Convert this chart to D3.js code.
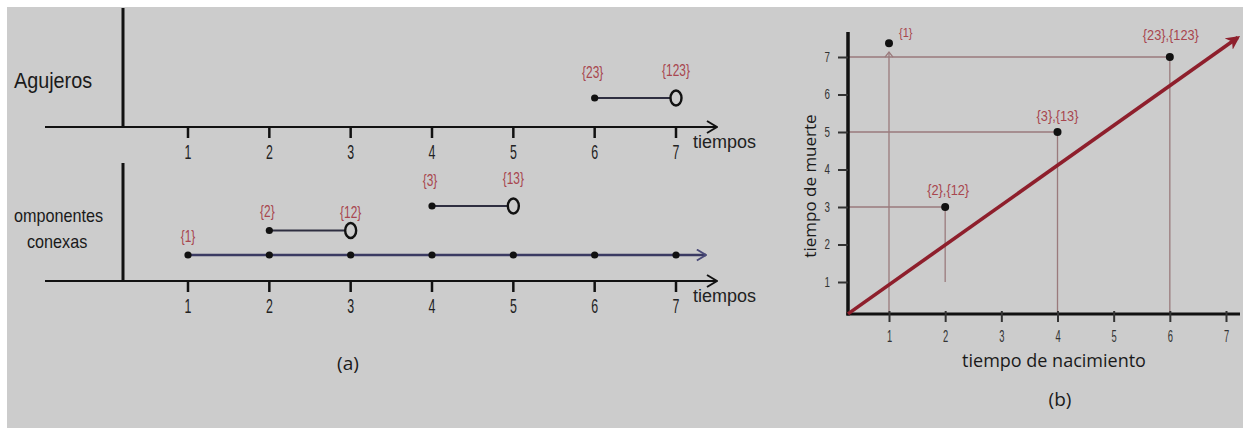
<!DOCTYPE html>
<html>
<head>
<meta charset="utf-8">
<script src="https://cdn.jsdelivr.net/npm/d3@7/dist/d3.min.js"></script>
<style>
  html, body { margin: 0; padding: 0; background: #fff; }
  svg { display: block; }
</style>
</head>
<body>
<svg id="fig" width="1243" height="428"></svg>
<script>
// data
var tiempos = [1, 2, 3, 4, 5, 6, 7];

// barcode (a): holes and connected components
var agujeros = [
    { nace: 6, muere: 7, nivel: 0, etNace: "{23}", etMuere: "{123}" }
];
var componentes = [
    { nace: 2, muere: 3, nivel: 1, etNace: "{2}", etMuere: "{12}" },
    { nace: 4, muere: 5, nivel: 2, etNace: "{3}", etMuere: "{13}" }
];
var compInfinita = { nace: 1, etNace: "{1}" };

// diagram (b): birth / death
var nacimiento = [1, 2, 4, 6];
var muerte = [7.37, 3, 5, 7];
var etiquetasDiag = ["{1}", "{2},{12}", "{3},{13}", "{23},{123}"];
var diagonal = [[0.27, 0.15], [7.21, 7.52]];

var negro = "#111";
var rojoTxt = "#a8464e";
var guia = "#9a7a7c";
var arial = "Arial, 'Liberation Sans', sans-serif";

var svg = d3.select("#fig");

// narrow text = arial squeezed horizontally
function angosto(sel, x, y, sx) {
    sel.attr("transform", function(d, i) {
        var xx = typeof x == "function" ? x(d, i) : x;
        var yy = typeof y == "function" ? y(d, i) : y;
        return "translate(" + xx + "," + yy + ") scale(" + (sx || 0.78) + ",1)";
    }).attr("font-family", arial);
    return sel;
}

svg.append("rect")
    .attr("x", 7).attr("y", 7)
    .attr("width", 1236).attr("height", 421)
    .attr("fill", "#cccccc");

var defs = svg.append("defs");
defs.append("marker")
    .attr("id", "chev")
    .attr("viewBox", "0 0 12 14")
    .attr("refX", 11).attr("refY", 7)
    .attr("markerWidth", 12).attr("markerHeight", 14)
    .attr("markerUnits", "userSpaceOnUse")
    .attr("orient", "auto")
    .append("path")
    .attr("d", "M1,1 L11,7 L1,13")
    .attr("fill", "none").attr("stroke", negro).attr("stroke-width", 2);
defs.append("marker")
    .attr("id", "chevAzul")
    .attr("viewBox", "0 0 12 14")
    .attr("refX", 11).attr("refY", 7)
    .attr("markerWidth", 11).attr("markerHeight", 13)
    .attr("markerUnits", "userSpaceOnUse")
    .attr("orient", "auto")
    .append("path")
    .attr("d", "M1,1 L11,7 L1,13")
    .attr("fill", "none").attr("stroke", "#4a4a78").attr("stroke-width", 2);
defs.append("marker")
    .attr("id", "flechaRoja")
    .attr("viewBox", "0 0 10 10")
    .attr("refX", 8).attr("refY", 5)
    .attr("markerWidth", 14).attr("markerHeight", 14)
    .attr("markerUnits", "userSpaceOnUse")
    .attr("orient", "auto")
    .append("path")
    .attr("d", "M0,0 L10,5 L0,10 L3,5 Z")
    .attr("fill", "#8e1f2c");

// ---------- (a) ----------
var xa = d3.scaleLinear().domain([1, 7]).range([188, 676]);

function panelBarras(ejeY, topY, titulo) {
    var g = svg.append("g");
    g.append("line")
        .attr("x1", 123).attr("x2", 123)
        .attr("y1", topY).attr("y2", ejeY)
        .attr("stroke", negro).attr("stroke-width", 3);
    g.append("line")
        .attr("x1", 45).attr("x2", 717)
        .attr("y1", ejeY).attr("y2", ejeY)
        .attr("stroke", negro).attr("stroke-width", 2.2)
        .attr("marker-end", "url(#chev)");
    g.selectAll(".tk").data(tiempos).enter().append("line")
        .attr("x1", function(d) { return xa(d) }).attr("x2", function(d) { return xa(d) })
        .attr("y1", ejeY).attr("y2", ejeY + 11)
        .attr("stroke", negro).attr("stroke-width", 2.5);
    var tl = g.selectAll(".tl").data(tiempos).enter().append("text")
        .attr("text-anchor", "middle")
        .attr("font-size", 20)
        .attr("fill", "#222")
        .text(function(d) { return d });
    angosto(tl, function(d) { return xa(d) }, ejeY + 32, 0.62);
    g.append("text")
        .attr("x", 693).attr("y", ejeY + 21)
        .attr("font-family", arial)
        .attr("font-size", 18)
        .attr("fill", "#222")
        .text("tiempos");
    var tt = g.selectAll(".tit").data(titulo).enter().append("text")
        .attr("font-size", function(d) { return d.s })
        .attr("fill", "#1a1a1a")
        .text(function(d) { return d.t });
    angosto(tt, function(d) { return d.x }, function(d) { return d.y }, 0.9);
    return g;
}

function barras(g, datos, nivelY) {
    var b = g.selectAll(".bar").data(datos).enter().append("g");
    b.append("line")
        .attr("x1", function(d) { return xa(d.nace) })
        .attr("x2", function(d) { return xa(d.muere) - 6 })
        .attr("y1", function(d) { return nivelY(d.nivel) })
        .attr("y2", function(d) { return nivelY(d.nivel) })
        .attr("stroke", "#2e2e40").attr("stroke-width", 2.2);
    b.append("circle")
        .attr("cx", function(d) { return xa(d.nace) })
        .attr("cy", function(d) { return nivelY(d.nivel) })
        .attr("r", 3.6).attr("fill", negro);
    b.append("ellipse")
        .attr("cx", function(d) { return xa(d.muere) })
        .attr("cy", function(d) { return nivelY(d.nivel) })
        .attr("rx", 5.5).attr("ry", 7.5)
        .attr("fill", "none").attr("stroke", negro).attr("stroke-width", 2.4);
    var a = b.append("text")
        .attr("text-anchor", "middle")
        .attr("font-size", 17)
        .attr("fill", rojoTxt)
        .text(function(d) { return d.etNace });
    angosto(a, function(d) { return xa(d.nace) - 2 },
        function(d) { return nivelY(d.nivel) - 20 + (d.nivel == 1 ? 6 : 0) }, 0.7);
    var m = b.append("text")
        .attr("text-anchor", "middle")
        .attr("font-size", 17)
        .attr("fill", rojoTxt)
        .text(function(d) { return d.etMuere });
    angosto(m, function(d) { return xa(d.muere) },
        function(d) { return nivelY(d.nivel) - 22 + (d.nivel == 1 ? 9 : 0) }, 0.7);
}

// Agujeros
var gTop = panelBarras(127, 8, [{ t: "Agujeros", x: 14, y: 88, s: 22 }]);
barras(gTop, agujeros, function() { return 98 });

// componentes conexas
var gBot = panelBarras(281, 163, [
    { t: "omponentes", x: 14, y: 222, s: 18 },
    { t: "conexas", x: 27, y: 248, s: 18 }
]);
var nivelY = d3.scaleLinear().domain([0, 2]).range([255, 206]);

gBot.append("line")
    .attr("x1", xa(compInfinita.nace)).attr("x2", 706)
    .attr("y1", nivelY(0)).attr("y2", nivelY(0))
    .attr("stroke", "#3a3a62").attr("stroke-width", 2.4)
    .attr("marker-end", "url(#chevAzul)");
gBot.selectAll(".dinf").data(tiempos).enter().append("circle")
    .attr("cx", function(d) { return xa(d) })
    .attr("cy", nivelY(0))
    .attr("r", 3.6).attr("fill", negro);
angosto(gBot.append("text")
    .attr("text-anchor", "middle")
    .attr("font-size", 17)
    .attr("fill", rojoTxt)
    .text(compInfinita.etNace), xa(compInfinita.nace), nivelY(0) - 13, 0.7);
barras(gBot, componentes, nivelY);

svg.append("text")
    .attr("x", 348).attr("y", 370)
    .attr("text-anchor", "middle")
    .attr("font-family", "'Open Sans', sans-serif")
    .attr("font-size", 19)
    .attr("fill", "#1a1a1a")
    .text("(a)");

// ---------- (b) ----------
var xb = d3.scaleLinear().domain([1, 7]).range([889, 1226]);
var yb = d3.scaleLinear().domain([1, 7]).range([282, 57]);
var ox = 848, oy = 314;
var gb = svg.append("g");

// guide lines
var puntos = nacimiento.map(function(n, i) { return { x: n, y: muerte[i], t: etiquetasDiag[i] } });
gb.selectAll(".gv").data(puntos).enter().append("line")
    .attr("x1", function(d) { return xb(d.x) }).attr("x2", function(d) { return xb(d.x) })
    .attr("y1", function(d, i) { return i == 0 ? yb(d.y) + 9 : yb(d.y) })
    .attr("y2", function(d, i) { return i == 1 ? 282 : oy })
    .attr("stroke", guia).attr("stroke-width", 1.3);
gb.selectAll(".gh").data(puntos.slice(1)).enter().append("line")
    .attr("x1", ox).attr("x2", function(d) { return xb(d.x) })
    .attr("y1", function(d) { return yb(d.y) }).attr("y2", function(d) { return yb(d.y) })
    .attr("stroke", guia).attr("stroke-width", 1.3);
// little arrow tip under {1}
gb.append("path")
    .attr("d", "M" + (xb(1) - 4) + "," + (yb(muerte[0]) + 14) + " L" + xb(1) + "," + (yb(muerte[0]) + 9) +
        " L" + (xb(1) + 4) + "," + (yb(muerte[0]) + 14))
    .attr("fill", "none").attr("stroke", guia).attr("stroke-width", 1.3);

// axes
gb.append("line")
    .attr("x1", ox).attr("x2", ox).attr("y1", 32).attr("y2", oy + 1.5)
    .attr("stroke", negro).attr("stroke-width", 3.5);
gb.append("line")
    .attr("x1", ox - 1.5).attr("x2", 1240).attr("y1", oy).attr("y2", oy)
    .attr("stroke", negro).attr("stroke-width", 3);

var axX = d3.axisBottom(xb).tickValues(tiempos).tickFormat(d3.format("d")).tickSize(8).tickPadding(4);
var gx = gb.append("g").attr("transform", "translate(0," + oy + ")").call(axX);
gx.select(".domain").remove();
gx.selectAll("line").attr("stroke", "#333").attr("stroke-width", 2).attr("y1", -3);
gx.selectAll("text")
    .attr("font-family", arial).attr("font-size", 17).attr("fill", "#333")
    .attr("y", null).attr("dy", null)
    .attr("transform", "translate(0,28) scale(0.55,1)");

var axY = d3.axisLeft(yb).tickValues(tiempos).tickFormat(d3.format("d")).tickSize(10).tickPadding(5);
var gy = gb.append("g").attr("transform", "translate(" + ox + ",0)").call(axY);
gy.select(".domain").remove();
gy.selectAll("line").attr("stroke", "#333").attr("stroke-width", 2);
gy.selectAll("text")
    .attr("font-family", arial).attr("font-size", 14).attr("fill", "#333")
    .attr("transform", "translate(-18,0) scale(0.7,1)").attr("x", null);

// diagonal
gb.append("line")
    .attr("x1", xb(diagonal[0][0])).attr("y1", yb(diagonal[0][1]))
    .attr("x2", xb(diagonal[1][0])).attr("y2", yb(diagonal[1][1]))
    .attr("stroke", "#8e1f2c").attr("stroke-width", 3.6)
    .attr("marker-end", "url(#flechaRoja)");

// points
gb.selectAll(".pt").data(puntos).enter().append("circle")
    .attr("cx", function(d) { return xb(d.x) })
    .attr("cy", function(d) { return yb(d.y) })
    .attr("r", 4).attr("fill", negro);
var offs = [[10, -6, "start", 13], [3, -12, "middle", 15], [0, -11, "middle", 15], [1, -17, "middle", 15]];
var pl = gb.selectAll(".pl").data(puntos).enter().append("text")
    .attr("text-anchor", function(d, i) { return offs[i][2] })
    .attr("font-size", function(d, i) { return offs[i][3] })
    .attr("fill", rojoTxt)
    .text(function(d) { return d.t });
angosto(pl, function(d, i) { return xb(d.x) + offs[i][0] },
    function(d, i) { return yb(d.y) + offs[i][1] }, 0.85);

gb.append("text")
    .attr("x", 1054).attr("y", 367)
    .attr("text-anchor", "middle")
    .attr("font-family", "'Open Sans', sans-serif")
    .attr("font-size", 18)
    .attr("fill", "#1a1a1a")
    .text("tiempo de nacimiento");
gb.append("text")
    .attr("transform", "translate(816,186) rotate(-90)")
    .attr("text-anchor", "middle")
    .attr("font-family", "'Open Sans', sans-serif")
    .attr("font-size", 17)
    .attr("fill", "#1a1a1a")
    .text("tiempo de muerte");
gb.append("text")
    .attr("x", 1060).attr("y", 406)
    .attr("text-anchor", "middle")
    .attr("font-family", "'Open Sans', sans-serif")
    .attr("font-size", 19)
    .attr("fill", "#1a1a1a")
    .text("(b)");
</script>
</body>
</html>
